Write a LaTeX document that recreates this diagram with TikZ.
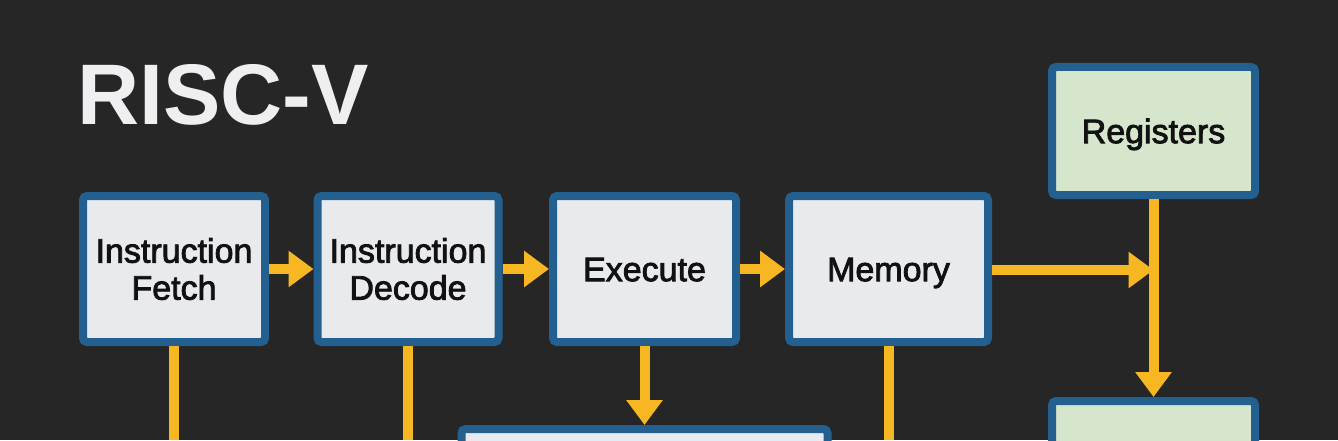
\documentclass[tikz,border=0pt]{standalone}
\usepackage{fontspec}
\setmainfont{Liberation Sans}
\newfontfamily\boxfont[FakeBold=2.4]{Liberation Sans}
\usetikzlibrary{positioning,arrows.meta}

\begin{document}
\begin{tikzpicture}[x=1pt,y=1pt,
  stage/.style={draw=boxBorder,fill=boxFill,line width=8pt,rounded corners=4pt,
    text=textColor,align=center,font=\boxfont\fontsize{34}{37}\selectfont,
    minimum height=146pt,inner sep=0pt},
  oneline/.style={text height=24.3pt,text depth=0pt},
  regbox/.style={stage,fill=regFill,minimum height=128pt},
  flow/.style={draw=flowColor,line width=10pt,-{Triangle[length=25pt,width=35pt]}},
  wire/.style={draw=flowColor,line width=10pt}]
\definecolor{bgColor}{RGB}{38,38,38}
\definecolor{boxBorder}{RGB}{36,96,143}
\definecolor{boxFill}{RGB}{233,234,238}
\definecolor{regFill}{RGB}{213,230,204}
\definecolor{flowColor}{RGB}{246,183,34}
\definecolor{textColor}{RGB}{17,17,17}
\definecolor{titleColor}{RGB}{239,239,241}
\path[use as bounding box,fill=bgColor] (0,0) rectangle (1338,440);
\clip (0,0) rectangle (1338,440);

\node[text=titleColor,anchor=base west,inner sep=0pt,font=\fontsize{86}{90}\selectfont\bfseries] (title) at ( 77,316) {RISC-V};

% pipeline stages
\node[stage,minimum width=182pt] (fetch) at (174,171) {Instruction\\Fetch};
\node[stage,minimum width=181pt] (decode) at (408,171) {Instruction\\Decode};
\node[stage,oneline,minimum width=183pt] (execute) at (644.5,171) {Execute};
\node[stage,oneline,minimum width=199pt] (memory) at (888.5,171) {Memory};
\node[regbox,oneline,minimum width=203pt] (registers) at (1153.5,309) {Registers};

% boxes cut by the lower edge
\node[stage,minimum width=366pt,minimum height=128pt] (lowmid) at (644.5,-53) {};
\node[regbox,minimum width=203pt] (lowright) at (1153.5,-25) {};

\coordinate (join) at (1153.5,170);
\coordinate (fetchend) at (174,0);
\coordinate (decodeend) at (408,0);
\coordinate (memoryend) at (888.5,0);

\draw[flow] (fetch) -- (decode);
\draw[flow] (decode) -- (execute);
\draw[flow] (execute) -- (memory);
\draw[flow] (memory.east |- join) -- (join);
\draw[flow] (registers) -- (lowright);
\draw[flow] (execute) -- (lowmid);

\draw[wire] (fetch) -- (fetchend);
\draw[wire] (decode) -- (decodeend);
\draw[wire] (memory) -- (memoryend);
\end{tikzpicture}
\end{document}
